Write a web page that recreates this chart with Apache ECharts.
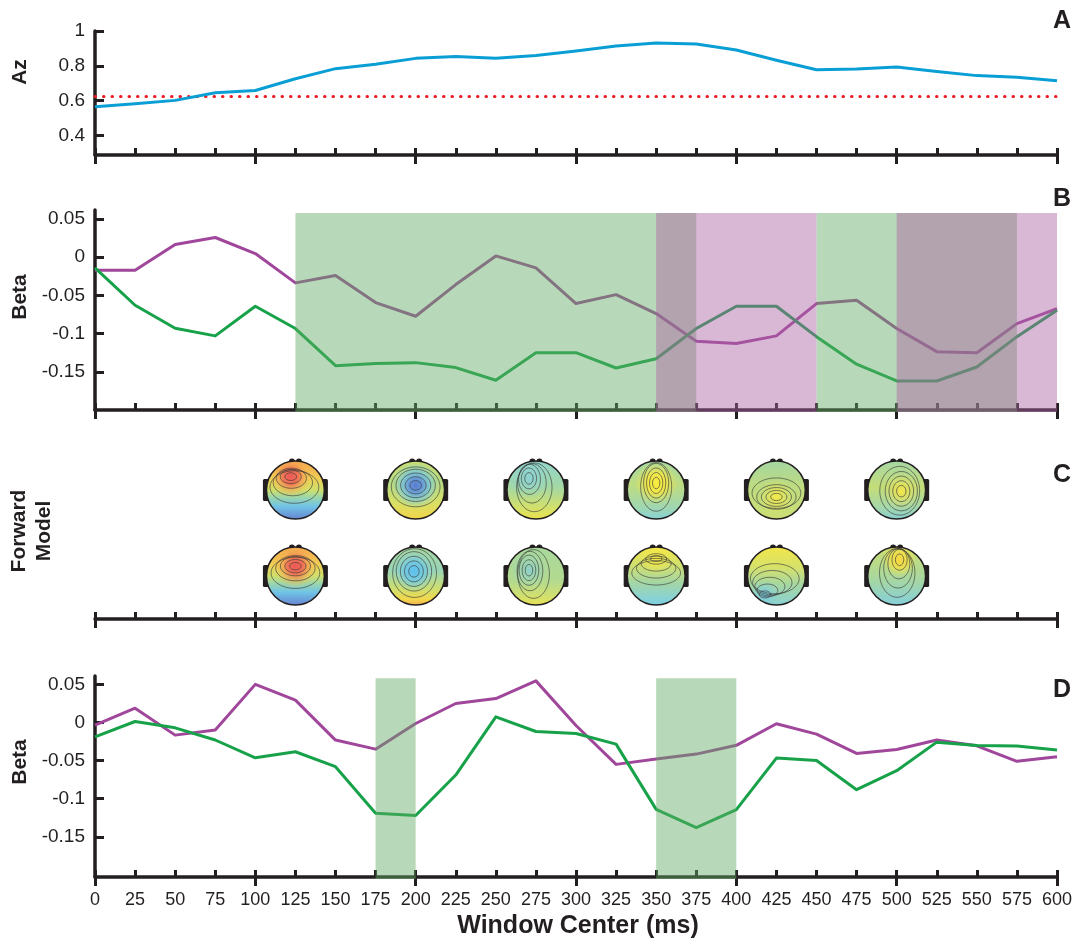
<!DOCTYPE html>
<html>
<head>
<meta charset="utf-8">
<script src="https://cdn.jsdelivr.net/npm/echarts@6/dist/echarts.min.js"></script>
<style>
  html, body { margin: 0; padding: 0; background: #ffffff; }
  #chart { width: 1076px; height: 940px; }
</style>
</head>
<body>
<div id="chart"></div>
<script>
// ---------------- DATA ----------------
const windowCenters = [0, 25, 50, 75, 100, 125, 150, 175, 200, 225, 250, 275, 300,
                       325, 350, 375, 400, 425, 450, 475, 500, 525, 550, 575, 600];

// Panel A: classifier performance
const azValues = [0.566, 0.583, 0.602, 0.646, 0.659, 0.726, 0.784, 0.809, 0.843, 0.853, 0.843, 0.86,
                  0.885, 0.914, 0.931, 0.925, 0.891, 0.832, 0.778, 0.782, 0.793, 0.768, 0.744, 0.734, 0.715];
const azChance = 0.624;
const azTicks = [0.4, 0.6, 0.8, 1];

// Panel B: Beta
const betaBPurple = [-0.017, -0.017, 0.0166, 0.0258, 0.0048, -0.0336, -0.024, -0.0594, -0.0773, -0.0358, 0.0017, -0.014,
                     -0.0607, -0.049, -0.0738, -0.110, -0.113, -0.103, -0.0607, -0.0563, -0.0934, -0.1236, -0.125, -0.0869, -0.0672];
const betaBGreen = [-0.014, -0.0629, -0.093, -0.103, -0.0642, -0.0934, -0.142, -0.139, -0.138, -0.1445, -0.161, -0.125,
                    -0.125, -0.145, -0.133, -0.0934, -0.0642, -0.0642, -0.104, -0.140, -0.162, -0.162, -0.1437, -0.104, -0.0695];
const betaBGreenBands = [[125, 375], [450, 575]];
const betaBPurpleBands = [[350, 450], [500, 600]];

// Panel D: Beta
const betaDPurple = [-0.0035, 0.0188, -0.0166, -0.010, 0.050, 0.0293, -0.0231, -0.035, -0.0013, 0.0249, 0.0314, 0.0546,
                     -0.004, -0.055, -0.048, -0.0415, -0.030, -0.0017, -0.0153, -0.0406, -0.0354, -0.0231, -0.0306, -0.051, -0.045];
const betaDGreen = [-0.0188, 0.0013, -0.007, -0.023, -0.0463, -0.0384, -0.058, -0.119, -0.122, -0.069, 0.0074, -0.0118,
                    -0.0144, -0.0284, -0.114, -0.138, -0.1144, -0.0467, -0.0498, -0.0882, -0.0633, -0.0258, -0.0301, -0.031, -0.0362];
const betaDGreenBands = [[175, 200], [350, 400]];
const betaTicks = [-0.15, -0.1, -0.05, 0, 0.05];
const bandTop = 0.058;

// Panel C: forward model scalp maps (time, row, map index)
const topoRows = ['bottom', 'top'];
const topoMaps = [
  [125, 1, 0], [200, 1, 1], [275, 1, 2], [350, 1, 3], [425, 1, 4], [500, 1, 5],
  [125, 0, 6], [200, 0, 7], [275, 0, 8], [350, 0, 9], [425, 0, 10], [500, 0, 11]
];

// ---------------- STYLE ----------------
const ink = '#231f20';
const fontFam = '"Liberation Sans", Arial, Helvetica, sans-serif';
const cBlue = '#0a9fd4';
const cRed = '#ed1c24';
const cPurple = '#a0479c';
const cGreen = '#17a24a';
const greenShade = 'rgba(97,170,99,0.45)';
const purpleShade = 'rgba(170,97,164,0.45)';

const redStops = [[0, 'rgba(238,88,88,1)'], [0.35, 'rgba(240,108,84,0.95)'], [0.7, 'rgba(245,170,80,0.5)'], [1, 'rgba(245,200,80,0)']];
const topoStyles = [
  { base: [[0, '#f3a24e'], [0.3, '#f0cf55'], [0.5, '#cfe06a'], [0.62, '#9ed7a8'], [0.78, '#70c4e6'], [1, '#6686d2']],
    hot: { x: 0.42, y: 0.27, r: 0.36, stops: redStops, ex: 1.2, ey: 0.8 } },
  { base: [[0, '#cade6e'], [0.35, '#b4da84'], [0.7, '#d6e068'], [1, '#f2d64a']],
    hot: { x: 0.5, y: 0.42, r: 0.4, stops: [[0, 'rgba(88,124,210,1)'], [0.3, 'rgba(100,150,220,0.95)'], [0.6, 'rgba(110,196,232,0.7)'], [1, 'rgba(140,210,220,0)']], ex: 1.1, ey: 0.9 } },
  { base: [[0, '#92d5cc'], [0.45, '#a4d8a4'], [0.8, '#d2e06c'], [1, '#ede24c']],
    hot: { x: 0.38, y: 0.3, r: 0.35, stops: [[0, 'rgba(140,210,210,1)'], [1, 'rgba(140,210,210,0)']], ex: 0.8, ey: 1.1 } },
  { base: [[0, '#a2d8a8'], [0.4, '#bedc80'], [0.8, '#a0d7b0'], [1, '#88d2d6']],
    hot: { x: 0.5, y: 0.38, r: 0.38, stops: [[0, 'rgba(250,236,60,1)'], [0.45, 'rgba(245,232,70,0.9)'], [1, 'rgba(220,225,100,0)']], ex: 0.7, ey: 1.1 } },
  { base: [[0, '#a4d6a2'], [0.4, '#bcdb82'], [1, '#cddf74']],
    hot: { x: 0.5, y: 0.62, r: 0.3, stops: [[0, 'rgba(246,234,70,1)'], [1, 'rgba(230,228,90,0)']], ex: 1.2, ey: 0.75 } },
  { base: [[0, '#a6d7a4'], [0.45, '#c4dd78'], [0.8, '#a4d7aa'], [1, '#8bd1d2']],
    hot: { x: 0.58, y: 0.52, r: 0.32, stops: [[0, 'rgba(244,230,70,1)'], [1, 'rgba(225,225,100,0)']], ex: 0.9, ey: 1.1 } },
  { base: [[0, '#f3a24e'], [0.3, '#f0cf55'], [0.5, '#cfe06a'], [0.62, '#9ed7a8'], [0.78, '#70c4e6'], [1, '#6686d2']],
    hot: { x: 0.5, y: 0.33, r: 0.38, stops: redStops, ex: 1.25, ey: 0.8 } },
  { base: [[0, '#a6d7a0'], [0.4, '#9ad5b6'], [0.72, '#cddf70'], [0.9, '#f2d84c'], [1, '#f4b04c']],
    hot: { x: 0.47, y: 0.42, r: 0.36, stops: [[0, 'rgba(92,192,240,1)'], [0.5, 'rgba(110,200,230,0.8)'], [1, 'rgba(140,210,210,0)']], ex: 0.9, ey: 1 } },
  { base: [[0, '#a8d89e'], [0.6, '#b4da8e'], [0.88, '#d6e16a'], [1, '#e8e152']],
    hot: { x: 0.38, y: 0.4, r: 0.32, stops: [[0, 'rgba(140,208,200,1)'], [1, 'rgba(150,210,190,0)']], ex: 0.75, ey: 1.15 } },
  { base: [[0, '#f3e64a'], [0.3, '#d2e06c'], [0.6, '#a6d6a2'], [0.85, '#8cd3ce'], [1, '#7acfe4']],
    hot: { x: 0.5, y: 0.2, r: 0.3, stops: [[0, 'rgba(246,232,66,1)'], [1, 'rgba(240,230,80,0)']], ex: 1.4, ey: 0.7 } },
  { base: [[0, '#f2e64a'], [0.35, '#d6e16a'], [0.65, '#a6d7a2'], [1, '#8ad2d2']],
    hot: { x: 0.3, y: 0.82, r: 0.25, stops: [[0, 'rgba(120,204,230,1)'], [1, 'rgba(130,208,215,0)']], ex: 1.3, ey: 0.8 } },
  { base: [[0, '#cade72'], [0.55, '#a8d7a0'], [1, '#84cfda']],
    hot: { x: 0.55, y: 0.22, r: 0.3, stops: [[0, 'rgba(246,214,62,1)'], [0.5, 'rgba(244,226,70,0.8)'], [1, 'rgba(230,228,90,0)']], ex: 0.8, ey: 1.1 } }
];

// ---------------- HELPERS ----------------
function zipXY(xs, ys) { return xs.map((x, i) => [x, ys[i]]); }
function fmt(v) { return String(Math.round(v * 100) / 100); }

function mainX(gi, withLabels) {
  return {
    gridIndex: gi, type: 'value', min: 0, max: 600, interval: 25, position: 'bottom',
    axisLine: { show: true, onZero: false, lineStyle: { color: ink, width: 3.5 } },
    axisTick: { show: true, inside: true, length: 7, lineStyle: { color: ink, width: 3 } },
    axisLabel: { show: withLabels, fontSize: 18, color: ink, fontFamily: fontFam, margin: 14 },
    splitLine: { show: false }
  };
}
function majorX(gi) {
  return {
    gridIndex: gi, type: 'value', min: 0, max: 600, interval: 100, position: 'bottom',
    axisLine: { show: false, onZero: false },
    axisTick: { show: true, inside: false, length: 9, lineStyle: { color: ink, width: 3 } },
    axisLabel: { show: false }, splitLine: { show: false }
  };
}
function valY(gi, min, max, ticks) {
  return {
    gridIndex: gi, type: 'value', min: min, max: max,
    axisLine: { show: true, onZero: false, lineStyle: { color: ink, width: 3.5 } },
    axisTick: { show: true, inside: true, length: 9, lineStyle: { color: ink, width: 3 }, customValues: ticks },
    axisLabel: { show: true, customValues: ticks, formatter: fmt, fontSize: 19, color: ink, fontFamily: fontFam, margin: 10 },
    splitLine: { show: false }
  };
}
function lineSeries(xi, ys, color, z) {
  return {
    type: 'line', xAxisIndex: xi, yAxisIndex: xi, data: zipXY(windowCenters, ys),
    symbol: 'none', z: z || 3, animation: false,
    lineStyle: { color: color, width: 3, join: 'round' }
  };
}
function bandData(bands, kind, bottom) { return bands.map(b => [b[0], b[1], bottom, bandTop, kind]); }
function renderBand(params, api) {
  const p0 = api.coord([api.value(0), api.value(2)]);
  const p1 = api.coord([api.value(1), api.value(3)]);
  return {
    type: 'rect',
    shape: { x: p0[0], y: p1[1], width: p1[0] - p0[0], height: p0[1] - p1[1] + 2 },
    style: { fill: api.value(4) === 0 ? greenShade : purpleShade }
  };
}
function renderHead(params, api) {
  const c = api.coord([api.value(0), api.value(1)]);
  const m = topoStyles[api.value(2)];
  const R = 29, cx = c[0], cy = c[1];
  const ch = [];
  ch.push({ type: 'circle', shape: { cx: cx - 3.5, cy: cy - R + 0.5, r: 3 }, style: { fill: ink } });
  ch.push({ type: 'circle', shape: { cx: cx + 3.5, cy: cy - R + 0.5, r: 3 }, style: { fill: ink } });
  ch.push({ type: 'rect', shape: { x: cx - R - 3.5, y: cy - 11, width: 7, height: 22, r: 1.5 }, style: { fill: ink } });
  ch.push({ type: 'rect', shape: { x: cx + R - 3.5, y: cy - 11, width: 7, height: 22, r: 1.5 }, style: { fill: ink } });
  ch.push({ type: 'circle', shape: { cx: cx, cy: cy, r: R },
    style: { fill: { type: 'linear', x: 0, y: 0, x2: 0, y2: 1, colorStops: m.base.map(s => ({ offset: s[0], color: s[1] })) } } });
  const h = m.hot;
  ch.push({ type: 'circle', shape: { cx: cx, cy: cy, r: R },
    style: { fill: { type: 'radial', x: h.x, y: h.y, r: h.r, colorStops: h.stops.map(s => ({ offset: s[0], color: s[1] })) } } });
  // nested contour rings that grow from the extremum toward the head centre
  const hx = cx + (h.x - 0.5) * 2 * R, hy = cy + (h.y - 0.5) * 2 * R;
  const d = Math.hypot(hx - cx, hy - cy);
  const ux = d > 0 ? (hx - cx) / d : 0, uy = d > 0 ? (hy - cy) / d : 0;
  const sc = Math.max(h.ex, h.ey);
  [0.2, 0.36, 0.52, 0.68, 0.84].forEach(f => {
    const rx = R * f * h.ex / sc, ry = R * f * h.ey / sc;
    const rm = Math.max(rx, ry);
    if (rm > R - 1.5) return;
    const dk = Math.max(0, Math.min(d, R - 1.5 - rm));
    ch.push({ type: 'ellipse', shape: { cx: cx + ux * dk, cy: cy + uy * dk, rx: rx, ry: ry },
      style: { fill: 'none', stroke: 'rgba(55,55,55,0.7)', lineWidth: 0.9 } });
  });
  ch.push({ type: 'circle', shape: { cx: cx, cy: cy, r: R }, style: { fill: 'none', stroke: ink, lineWidth: 1.6 } });
  return { type: 'group', children: ch };
}
function vText(text, x, y) {
  return { type: 'text', x: x, y: y, rotation: Math.PI / 2,
    style: { text: text, fill: ink, font: 'bold 21px ' + fontFam, align: 'center', verticalAlign: 'middle' } };
}
function letter(text, y) {
  return { type: 'text', x: 1071, y: y,
    style: { text: text, fill: ink, font: 'bold 25px ' + fontFam, align: 'right', verticalAlign: 'middle' } };
}

// ---------------- CHART ----------------
const chart = echarts.init(document.getElementById('chart'), null, { renderer: 'canvas' });
const option = {
  backgroundColor: '#ffffff',
  animation: false,
  grid: [
    { left: 95, right: 19, top: 31, height: 124 },
    { left: 95, right: 19, top: 210, height: 200 },
    { left: 95, right: 19, top: 447, height: 172 },
    { left: 95, right: 19, top: 676, height: 201 }
  ],
  xAxis: [mainX(0, false), mainX(1, false), mainX(2, false), mainX(3, true),
          majorX(0), majorX(1), majorX(2), majorX(3)],
  yAxis: [
    valY(0, 0.2886, 1, azTicks),
    valY(1, -0.2, 0.0618, betaTicks),
    { gridIndex: 2, type: 'category', data: topoRows, show: false },
    valY(3, -0.2028, 0.061, betaTicks)
  ],
  series: [
    lineSeries(0, azValues, cBlue, 4),
    { type: 'line', xAxisIndex: 0, yAxisIndex: 0, data: [[0, azChance], [600, azChance]], symbol: 'none', z: 3,
      lineStyle: { color: cRed, width: 3, type: [0.5, 8], cap: 'round' } },
    lineSeries(1, betaBPurple, cPurple, 3),
    lineSeries(1, betaBGreen, cGreen, 3),
    { type: 'custom', xAxisIndex: 1, yAxisIndex: 1, z: 6, renderItem: renderBand,
      data: bandData(betaBGreenBands, 0, -0.2).concat(bandData(betaBPurpleBands, 1, -0.2)) },
    { type: 'custom', xAxisIndex: 2, yAxisIndex: 2, z: 4, renderItem: renderHead, data: topoMaps },
    lineSeries(3, betaDPurple, cPurple, 3),
    lineSeries(3, betaDGreen, cGreen, 3),
    { type: 'custom', xAxisIndex: 3, yAxisIndex: 3, z: 6, renderItem: renderBand,
      data: bandData(betaDGreenBands, 0, -0.2028) }
  ],
  graphic: [
    vText('Az', 20, 72),
    vText('Beta', 20, 297),
    vText('Forward', 19, 531),
    vText('Model', 44, 531),
    vText('Beta', 20, 762),
    { type: 'text', x: 578, y: 926,
      style: { text: 'Window Center (ms)', fill: ink, font: 'bold 25px ' + fontFam, align: 'center', verticalAlign: 'middle' } },
    letter('A', 21), letter('B', 199), letter('C', 475), letter('D', 690)
  ]
};
chart.setOption(option);
</script>
</body>
</html>
